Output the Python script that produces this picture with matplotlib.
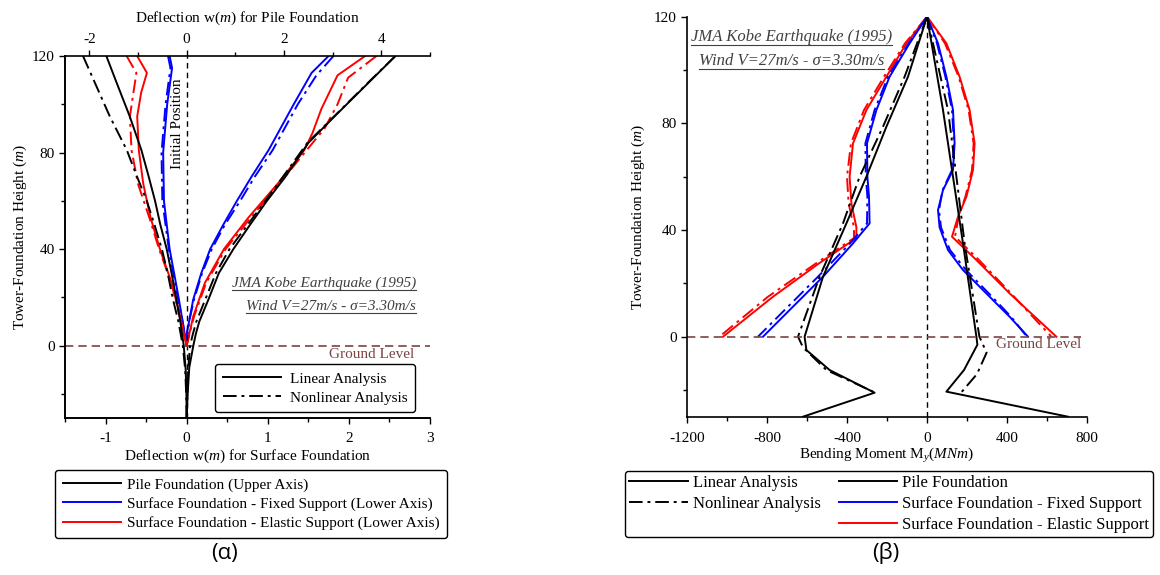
import matplotlib.pyplot as plt
from matplotlib.lines import Line2D

plt.rcParams['font.family'] = 'Liberation Serif'
plt.rcParams['mathtext.fontset'] = 'custom'
plt.rcParams['mathtext.rm'] = 'Liberation Serif'
plt.rcParams['mathtext.it'] = 'Liberation Serif:italic'
plt.rcParams['font.size'] = 11
plt.rcParams['axes.unicode_minus'] = False

# ---------- (a) deflection data ----------
# pile foundation, upper axis
pile_lin_pos_h = [120, 110, 95, 84, 70, 60, 50, 40, 30, 19, 10, 5, 0, -9, -20, -30]
pile_lin_pos_w = [4.29, 3.79, 3.04, 2.50, 2.03, 1.65, 1.30, 0.96, 0.66, 0.445, 0.26, 0.19, 0.137, 0.054, 0.02, 0.0]
pile_lin_neg_h = [120, 110, 95, 81, 70, 60, 50, 40, 30, 19, 10, 0, -10, -20, -30]
pile_lin_neg_w = [-1.65, -1.46, -1.17, -0.93, -0.78, -0.65, -0.54, -0.41, -0.31, -0.21, -0.13, -0.06, -0.02, -0.005, 0.0]
pile_nl_pos_h = [120, 110, 95, 84, 70, 60, 50, 40, 30, 19, 10, 5, 0, -10, -30]
pile_nl_pos_w = [4.29, 3.78, 3.03, 2.48, 1.98, 1.62, 1.25, 0.88, 0.60, 0.38, 0.20, 0.13, 0.07, 0.03, 0.0]
pile_nl_neg_h = [120, 110, 95, 81, 70, 60, 50, 40, 30, 19, 10, 0, -10, -20, -30]
pile_nl_neg_w = [-2.13, -1.91, -1.58, -1.23, -1.02, -0.82, -0.66, -0.51, -0.39, -0.28, -0.17, -0.08, -0.03, -0.01, 0.0]

# surface foundation, fixed support, lower axis
fix_lin_pos_h = [120, 113, 100, 81, 70, 60, 50, 40, 30, 19, 10, 5, 0]
fix_lin_pos_w = [1.75, 1.54, 1.32, 1.01, 0.80, 0.62, 0.45, 0.29, 0.18, 0.08, 0.03, 0.0, 0.0]
fix_lin_neg_h = [120, 115, 100, 80, 60, 40, 20, 10, 0]
fix_lin_neg_w = [-0.21, -0.18, -0.24, -0.29, -0.28, -0.21, -0.10, -0.05, 0.0]
fix_nl_pos_h = [120, 112, 100, 81, 70, 60, 50, 40, 30, 19, 10, 0]
fix_nl_pos_w = [1.81, 1.60, 1.37, 1.06, 0.84, 0.66, 0.47, 0.31, 0.19, 0.09, 0.03, 0.0]
fix_nl_neg_h = [120, 115, 100, 80, 60, 40, 20, 10, 0]
fix_nl_neg_w = [-0.23, -0.20, -0.26, -0.31, -0.30, -0.22, -0.11, -0.05, 0.0]

# surface foundation, elastic support, lower axis
el_lin_pos_h = [120, 112, 98, 88, 81, 67, 53, 40, 26, 12, 0]
el_lin_pos_w = [2.20, 1.86, 1.66, 1.55, 1.45, 1.12, 0.76, 0.46, 0.225, 0.08, 0.0]
el_lin_neg_h = [120, 113, 105, 95, 81, 67, 53, 40, 26, 12, 0]
el_lin_neg_w = [-0.61, -0.49, -0.56, -0.61, -0.59, -0.535, -0.445, -0.33, -0.185, -0.08, 0.0]
el_nl_pos_h = [120, 111, 100, 90, 81, 67, 53, 40, 26, 12, 0]
el_nl_pos_w = [2.34, 1.99, 1.86, 1.70, 1.48, 1.14, 0.79, 0.48, 0.24, 0.09, 0.0]
el_nl_neg_h = [120, 113, 95, 81, 67, 53, 40, 26, 12, 0]
el_nl_neg_w = [-0.74, -0.62, -0.70, -0.68, -0.60, -0.46, -0.34, -0.19, -0.085, 0.0]

# ---------- (b) bending moment data ----------
pm_lin_neg_h = [120, 97.5, 78.75, 60, 42.5, 22.5, 0, -5, -12.5, -21, -30]
pm_lin_neg_m = [0, -95, -203, -303, -403, -520, -612, -603, -487, -262, -620]
pm_lin_pos_h = [120, 85, 60, 35, 0, -3, -12.5, -20.6, -30]
pm_lin_pos_m = [0, 80, 130, 180, 247, 252, 185, 97, 705]
pm_nl_neg_h = [120, 97.5, 78.75, 60, 42.5, 22.5, 0, -4, -12.5, -20.6]
pm_nl_neg_m = [0, -112, -220, -337, -420, -537, -645, -620, -503, -270]
pm_nl_pos_h = [120, 85, 60, 35, 0, -6, -14, -21.9]
pm_nl_pos_m = [0, 105, 147, 188, 262, 298, 250, 160]

fm_h = [120, 110, 97.5, 85, 72.5, 60, 52.5, 42.5, 35, 22.5, 10, 0]
fm_lin_neg_m = [0, -87, -187, -253, -300, -298, -290, -287, -370, -520, -687, -820]
fm_nl_neg_m = [0, -92, -195, -262, -308, -306, -298, -300, -385, -545, -712, -845]
fm_pos_h = [120, 110, 97.5, 85, 72.5, 62.5, 55, 47.5, 41, 32.5, 25, 15, 7.5, 0]
fm_lin_pos_m = [0, 55, 97, 130, 138, 130, 80, 55, 63, 105, 180, 313, 413, 505]
fm_nl_pos_m = [0, 50, 92, 125, 135, 125, 78, 60, 70, 115, 195, 325, 420, 500]

em_neg_h = [120, 110, 97.5, 85, 72.5, 60, 50, 41, 37, 27.5, 15, 0]
em_lin_neg_m = [0, -103, -203, -303, -370, -387, -378, -353, -353, -540, -770, -1020]
em_nl_neg_m = [0, -110, -215, -315, -380, -400, -392, -365, -365, -555, -795, -1038]
em_pos_h = [120, 110, 97.5, 85, 72.5, 62.5, 52.5, 45, 37.5, 28.75, 16.25, 0]
em_lin_pos_m = [0, 97, 163, 213, 238, 230, 197, 155, 125, 247, 413, 647]
em_nl_pos_m = [0, 90, 158, 208, 233, 225, 192, 158, 140, 260, 420, 622]

dashdot = (0, (7, 2.5, 1.5, 2.5))
ground_col = '#7a4343'
note_col = '#404040'
lw = 1.4

fig = plt.figure(figsize=(11.6, 5.75), dpi=100)

# ---------- left panel ----------
ax = fig.add_axes([65 / 1160, 1 - 418 / 575, 365 / 1160, 362 / 575])
ax2 = ax.twiny()
ax.set_xlim(-1.5, 3)
ax.set_ylim(-30, 120)
ax2.set_xlim(-2.5, 5)

ax.plot(fix_lin_pos_w, fix_lin_pos_h, color='blue', lw=lw)
ax.plot(fix_lin_neg_w, fix_lin_neg_h, color='blue', lw=lw)
ax.plot(fix_nl_pos_w, fix_nl_pos_h, color='blue', lw=lw, ls=dashdot)
ax.plot(fix_nl_neg_w, fix_nl_neg_h, color='blue', lw=lw, ls=dashdot)
ax.plot(el_lin_pos_w, el_lin_pos_h, color='red', lw=lw)
ax.plot(el_lin_neg_w, el_lin_neg_h, color='red', lw=lw)
ax.plot(el_nl_pos_w, el_nl_pos_h, color='red', lw=lw, ls=dashdot)
ax.plot(el_nl_neg_w, el_nl_neg_h, color='red', lw=lw, ls=dashdot)
ax2.plot(pile_lin_pos_w, pile_lin_pos_h, color='black', lw=lw)
ax2.plot(pile_lin_neg_w, pile_lin_neg_h, color='black', lw=lw)
ax2.plot(pile_nl_pos_w, pile_nl_pos_h, color='black', lw=lw, ls=dashdot)
ax2.plot(pile_nl_neg_w, pile_nl_neg_h, color='black', lw=lw, ls=dashdot)

ax.axvline(0, color='black', ls=(0, (4, 3)), lw=1)
ax.axhline(0, color=ground_col, ls=(0, (5, 3)), lw=1.2)

ax.set_xticks([-1, 0, 1, 2, 3])
ax.set_xticks([-1.5, -0.5, 0.5, 1.5, 2.5], minor=True)
ax.set_yticks([0, 40, 80, 120])
ax.set_yticks([-20, 20, 60, 100], minor=True)
ax2.set_xticks([-2, 0, 2, 4])
ax2.set_xticks([-1, 1, 3, 5], minor=True)
for a in (ax, ax2):
    a.tick_params(which='major', length=4, width=1, labelsize=11)
    a.tick_params(which='minor', length=3, width=1)
    a.spines['right'].set_visible(False)
    for s in a.spines.values():
        s.set_linewidth(1.2)
ax.spines['top'].set_visible(False)
ax.tick_params(axis='x', pad=6)

ax.set_xlabel('Deflection w($\\mathit{m}$) for Surface Foundation', fontsize=11, labelpad=2)
ax2.set_xlabel('Deflection w($\\mathit{m}$) for Pile Foundation', fontsize=11, labelpad=8)
ax.set_ylabel('Tower-Foundation Height ($\\mathit{m}$)', fontsize=11, labelpad=2)

ax.text(-0.107, 92, 'Initial Position', rotation=90, ha='center', va='center', fontsize=11)
ax.text(2.80, -3.8, 'Ground Level', ha='right', va='center', color=ground_col, fontsize=11)
n1 = ax.text(2.83, 25.9, 'JMA Kobe Earthquake (1995)', ha='right', va='center',
             style='italic', color=note_col, fontsize=11)
n2 = ax.text(2.83, 16.0, 'Wind V=27m/s - σ=3.30m/s', ha='right', va='center',
             style='italic', color=note_col, fontsize=11)

h_lin = Line2D([], [], color='black', lw=lw)
h_nl = Line2D([], [], color='black', lw=lw, ls=dashdot)
leg = ax.legend([h_lin, h_nl], ['Linear Analysis', 'Nonlinear Analysis'], loc='lower right',
                bbox_to_anchor=(0.96, 0.016), handlelength=3.8, fontsize=11, fancybox=True,
                framealpha=1, edgecolor='black', borderpad=0.5, labelspacing=0.35,
                handletextpad=0.6, borderaxespad=0)
leg.get_frame().set_linewidth(1)

h_pile = Line2D([], [], color='black', lw=lw)
h_fix = Line2D([], [], color='blue', lw=lw)
h_el = Line2D([], [], color='red', lw=lw)
leg1 = fig.legend([h_pile, h_fix, h_el],
                  ['Pile Foundation (Upper Axis)',
                   'Surface Foundation - Fixed Support (Lower Axis)',
                   'Surface Foundation - Elastic Support (Lower Axis)'],
                  loc='upper left', bbox_to_anchor=(55 / 1160, 1 - 470 / 575), handlelength=3.8,
                  fontsize=11, fancybox=True, framealpha=1, edgecolor='black',
                  borderpad=0.5, labelspacing=0.35, handletextpad=0.4, borderaxespad=0)
leg1.get_frame().set_linewidth(1)

# ---------- right panel ----------
bx = fig.add_axes([687 / 1160, 1 - 416.7 / 575, 400 / 1160, 400 / 575])
bx.set_xlim(-1200, 800)
bx.set_ylim(-30, 120)

bx.plot(em_lin_neg_m, em_neg_h, color='red', lw=lw)
bx.plot(em_nl_neg_m, em_neg_h, color='red', lw=lw, ls=dashdot)
bx.plot(em_lin_pos_m, em_pos_h, color='red', lw=lw)
bx.plot(em_nl_pos_m, em_pos_h, color='red', lw=lw, ls=dashdot)
bx.plot(fm_lin_neg_m, fm_h, color='blue', lw=lw)
bx.plot(fm_nl_neg_m, fm_h, color='blue', lw=lw, ls=dashdot)
bx.plot(fm_lin_pos_m, fm_pos_h, color='blue', lw=lw)
bx.plot(fm_nl_pos_m, fm_pos_h, color='blue', lw=lw, ls=dashdot)
bx.plot(pm_lin_neg_m, pm_lin_neg_h, color='black', lw=lw)
bx.plot(pm_lin_pos_m, pm_lin_pos_h, color='black', lw=lw)
bx.plot(pm_nl_neg_m, pm_nl_neg_h, color='black', lw=lw, ls=dashdot)
bx.plot(pm_nl_pos_m, pm_nl_pos_h, color='black', lw=lw, ls=dashdot)

bx.axvline(0, color='black', ls=(0, (4, 3)), lw=1)
bx.hlines(0, -1200, 772, color=ground_col, ls=(0, (5, 3)), lw=1.2)

bx.set_xticks([-1200, -800, -400, 0, 400, 800])
bx.set_xticks([-1000, -600, -200, 200, 600], minor=True)
bx.set_yticks([0, 40, 80, 120])
bx.set_yticks([-20, 20, 60, 100], minor=True)
bx.tick_params(which='major', length=4, width=1, labelsize=11)
bx.tick_params(which='minor', length=3, width=1)
bx.tick_params(axis='x', pad=7)
bx.spines['right'].set_visible(False)
bx.spines['top'].set_visible(False)
for s in bx.spines.values():
    s.set_linewidth(1.2)

bx.set_xlabel('Bending Moment M$_y$($\\mathit{MNm}$)', fontsize=11, labelpad=1)
bx.set_ylabel('Tower-Foundation Height ($\\mathit{m}$)', fontsize=11, labelpad=5)

bx.text(772, -2.8, 'Ground Level', ha='right', va='center', color=ground_col, fontsize=11)
n3 = bx.text(-676, 112.5, 'JMA Kobe Earthquake (1995)', ha='center', va='center',
             style='italic', color=note_col, fontsize=12)
n4 = bx.text(-676, 103.5, 'Wind V=27m/s - σ=3.30m/s', ha='center', va='center',
             style='italic', color=note_col, fontsize=12)

h_blank = Line2D([], [], color='none')
leg2 = fig.legend([h_lin, h_nl, h_blank, h_pile, h_fix, h_el],
                  ['Linear Analysis', 'Nonlinear Analysis', '', 'Pile Foundation',
                   'Surface Foundation - Fixed Support', 'Surface Foundation - Elastic Support'],
                  ncol=2, loc='upper left', bbox_to_anchor=(625 / 1160, 1 - 471 / 575),
                  handlelength=3.5, fontsize=12, fancybox=True, framealpha=1,
                  edgecolor='black', borderpad=0.25, labelspacing=0.3, columnspacing=1.1,
                  handletextpad=0.3, borderaxespad=0)
leg2.get_frame().set_linewidth(1)

fig.text(225 / 1160, 1 - 553 / 575, '(α)', ha='center', va='center', fontsize=16,
         family=['Open Sans', 'DejaVu Sans'])
fig.text(886 / 1160, 1 - 553 / 575, '(β)', ha='center', va='center', fontsize=16,
         family=['Open Sans', 'DejaVu Sans'])

# underline the load case notes
fig.canvas.draw()
r = fig.canvas.get_renderer()
inv = fig.transFigure.inverted()
for t in (n1, n2, n3, n4):
    bb = t.get_window_extent(r)
    (x0, y0), (x1, _) = inv.transform([(bb.x0, bb.y0), (bb.x1, bb.y0)])
    fig.add_artist(Line2D([x0, x1], [y0, y0], color=note_col, lw=0.8))

fig.savefig('out.png', dpi=100)
